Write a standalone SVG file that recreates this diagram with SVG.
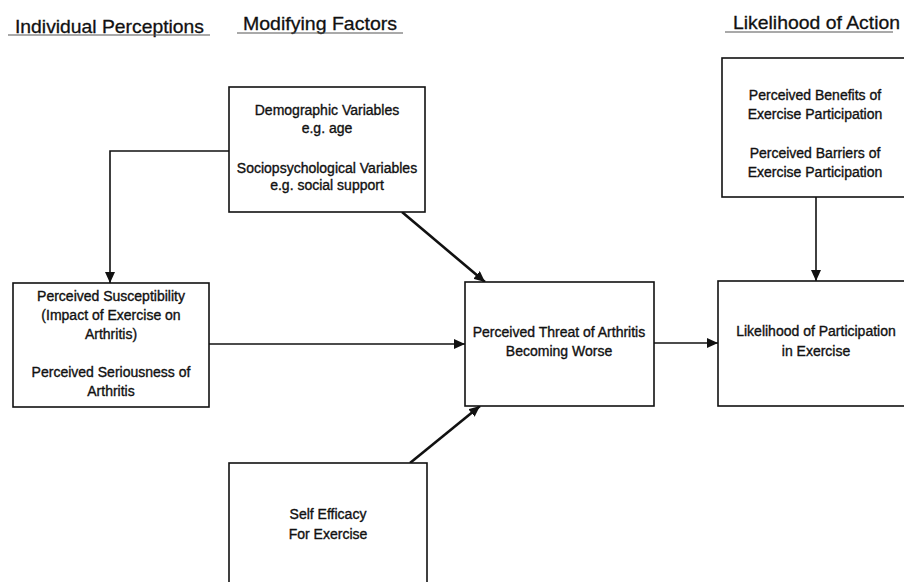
<svg xmlns="http://www.w3.org/2000/svg" width="904" height="582" viewBox="0 0 904 582">
<style>
.box{fill:#fff;stroke:#111;stroke-width:1.6}
.t{font-family:"Liberation Sans",Arial,sans-serif;font-size:14px;fill:#111;stroke:#111;stroke-width:0.35;text-anchor:middle}
.h{font-family:"Liberation Sans",Arial,sans-serif;font-size:19px;fill:#111;stroke:#111;stroke-width:0.3}
.ul{stroke:#555;stroke-width:1.2}
.c{fill:none;stroke:#111;stroke-width:1.6}
.d{fill:none;stroke:#111;stroke-width:2.6}
</style>
<defs>
<marker id="ah" markerUnits="userSpaceOnUse" markerWidth="12" markerHeight="10" refX="11" refY="5" orient="auto">
<path d="M0,0 L11,5 L0,10 z" fill="#111"/>
</marker>
</defs>
<g id="headings">
<text class="h" x="15" y="33" textLength="189" lengthAdjust="spacingAndGlyphs">Individual Perceptions</text>
<line class="ul" x1="8" y1="35" x2="210" y2="35"/>
<text class="h" x="243" y="29.5" textLength="154" lengthAdjust="spacingAndGlyphs">Modifying Factors</text>
<line class="ul" x1="237" y1="33" x2="403" y2="33"/>
<text class="h" x="733" y="28.5" textLength="167" lengthAdjust="spacingAndGlyphs">Likelihood of Action</text>
<line class="ul" x1="725" y1="32" x2="893" y2="32"/>
</g>
<g id="connectors">
<polyline class="c" points="229,151 110,151 110,283" marker-end="url(#ah)"/>
<line class="d" x1="402" y1="212" x2="485" y2="282" marker-end="url(#ah)"/>
<line class="c" x1="209" y1="344" x2="465" y2="344" marker-end="url(#ah)"/>
<line class="d" x1="410" y1="463" x2="480" y2="406" marker-end="url(#ah)"/>
<line class="c" x1="654" y1="343" x2="718" y2="343" marker-end="url(#ah)"/>
<line class="c" x1="816" y1="197" x2="816" y2="281" marker-end="url(#ah)"/>
</g>
<g id="demographic">
<rect class="box" x="229" y="87" width="196" height="125"/>
<text class="t" x="327" y="115">Demographic Variables</text>
<text class="t" x="327" y="133">e.g. age</text>
<text class="t" x="327" y="173">Sociopsychological Variables</text>
<text class="t" x="327" y="190">e.g. social support</text>
</g>
<g id="benefits">
<rect class="box" x="722" y="58" width="200" height="139"/>
<text class="t" x="815" y="100">Perceived Benefits of</text>
<text class="t" x="815" y="119">Exercise Participation</text>
<text class="t" x="815" y="158">Perceived Barriers of</text>
<text class="t" x="815" y="177">Exercise Participation</text>
</g>
<g id="susceptibility">
<rect class="box" x="13" y="283" width="196" height="124"/>
<text class="t" x="111" y="301">Perceived Susceptibility</text>
<text class="t" x="111" y="320">(Impact of Exercise on</text>
<text class="t" x="111" y="339">Arthritis)</text>
<text class="t" x="111" y="377">Perceived Seriousness of</text>
<text class="t" x="111" y="396">Arthritis</text>
</g>
<g id="threat">
<rect class="box" x="465" y="282" width="189" height="124"/>
<text class="t" x="559" y="337">Perceived Threat of Arthritis</text>
<text class="t" x="559" y="356">Becoming Worse</text>
</g>
<g id="likelihood">
<rect class="box" x="718" y="281" width="200" height="125"/>
<text class="t" x="816" y="336">Likelihood of Participation</text>
<text class="t" x="816" y="356">in Exercise</text>
</g>
<g id="selfefficacy">
<rect class="box" x="229" y="463" width="198" height="130"/>
<text class="t" x="328" y="519">Self Efficacy</text>
<text class="t" x="328" y="539">For Exercise</text>
</g>
</svg>
